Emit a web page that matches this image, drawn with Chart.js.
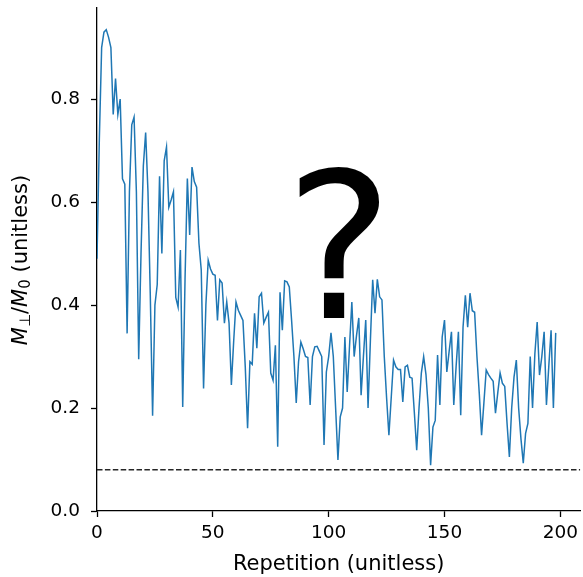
<!DOCTYPE html>
<html lang="en">
<head>
<meta charset="UTF-8" />
<title>Transverse magnetization per repetition</title>
<script src="https://cdn.jsdelivr.net/npm/chart.js"></script>
<style>
  html, body { margin: 0; padding: 0; background: #ffffff; }
  #wrap { width: 583px; height: 577px; }
</style>
</head>
<body>
<div id="wrap"><canvas id="chart" width="583" height="577"></canvas></div>
<script>
// M_perp / M_0 for each repetition (repetition 0..198)
const signal = [
  0.49, 0.72, 0.90, 0.93, 0.935, 0.92, 0.90, 0.77, 0.84, 0.77,
  0.80, 0.645, 0.635, 0.345, 0.62, 0.75, 0.765, 0.62, 0.295, 0.50,
  0.67, 0.735, 0.62, 0.42, 0.185, 0.40, 0.44, 0.65, 0.50, 0.68,
  0.707, 0.59, 0.604, 0.62, 0.415, 0.396, 0.507, 0.202, 0.45, 0.646,
  0.536, 0.668, 0.64, 0.629, 0.52, 0.468, 0.238, 0.40, 0.487, 0.47,
  0.46, 0.458, 0.37, 0.449, 0.443, 0.365, 0.406, 0.365, 0.245, 0.33,
  0.406, 0.39, 0.38, 0.37, 0.28, 0.161, 0.29, 0.285, 0.384, 0.316,
  0.416, 0.423, 0.365, 0.376, 0.386, 0.268, 0.254, 0.322, 0.125, 0.425,
  0.351, 0.447, 0.445, 0.435, 0.37, 0.30, 0.21, 0.29, 0.328, 0.315,
  0.30, 0.298, 0.206, 0.30, 0.319, 0.32, 0.31, 0.30, 0.128, 0.27,
  0.30, 0.346, 0.30, 0.20, 0.099, 0.183, 0.20, 0.338, 0.231, 0.32,
  0.406, 0.30, 0.34, 0.375, 0.225, 0.30, 0.371, 0.20, 0.33, 0.449,
  0.384, 0.45, 0.416, 0.41, 0.30, 0.22, 0.147, 0.22, 0.293, 0.28,
  0.275, 0.275, 0.212, 0.28, 0.283, 0.26, 0.258, 0.19, 0.118, 0.20,
  0.268, 0.30, 0.265, 0.20, 0.089, 0.163, 0.176, 0.303, 0.206, 0.338,
  0.371, 0.27, 0.31, 0.348, 0.206, 0.28, 0.348, 0.186, 0.357, 0.419,
  0.357, 0.423, 0.389, 0.386, 0.30, 0.229, 0.147, 0.21, 0.274, 0.265,
  0.258, 0.252, 0.19, 0.23, 0.268, 0.248, 0.242, 0.17, 0.105, 0.20,
  0.26, 0.293, 0.20, 0.14, 0.093, 0.151, 0.17, 0.30, 0.20, 0.305,
  0.367, 0.264, 0.30, 0.348, 0.206, 0.28, 0.351, 0.20, 0.346
];
const threshold = 0.08;
const xTicks = [0, 50, 100, 150, 200];
const yTicks = [0.0, 0.2, 0.4, 0.6, 0.8];
const xMax = 208.6;
const yMax = 0.977;

const FONT = "'DejaVu Sans', sans-serif";

const signalPoints = signal.map((v, i) => ({ x: i, y: v }));
const thresholdPoints = [{ x: 0, y: threshold }, { x: xMax, y: threshold }];

// y axis title with mathtext-like subscripts, and the big question mark
const extras = {
  id: 'extras',
  afterDraw(chart) {
    const c = chart.ctx;
    const xs = chart.scales.x, ys = chart.scales.y;

    c.save();
    c.fillStyle = '#000';
    c.font = '204px ' + FONT;
    c.textAlign = 'center';
    c.textBaseline = 'alphabetic';
    c.fillText('?', xs.getPixelForValue(104.5), ys.getPixelForValue(0.375));
    c.restore();

    const parts = [
      { t: 'M', f: 'italic 21px ' + FONT, dy: 0 },
      { t: '\u22A5', f: '15px ' + FONT, dy: 4 },
      { t: '/', f: '21px ' + FONT, dy: 0 },
      { t: 'M', f: 'italic 21px ' + FONT, dy: 0 },
      { t: '0', f: '15px ' + FONT, dy: 4 },
      { t: ' (unitless)', f: '21px ' + FONT, dy: 0 }
    ];
    c.save();
    c.fillStyle = '#000';
    c.translate(22, 260);
    c.rotate(-Math.PI / 2);
    let total = 0;
    parts.forEach(p => { c.font = p.f; p.w = c.measureText(p.t).width; total += p.w; });
    let x = -total / 2;
    c.textBaseline = 'middle';
    parts.forEach(p => {
      c.font = p.f;
      c.fillText(p.t, x, p.dy);
      x += p.w;
    });
    c.restore();
  }
};

const axisCommon = {
  type: 'linear',
  grid: {
    display: true,
    drawOnChartArea: false,
    drawTicks: true,
    tickLength: 6,
    tickColor: '#000',
    tickWidth: 1.3
  },
  border: { display: true, color: '#000', width: 1.3 }
};

new Chart(document.getElementById('chart'), {
  type: 'line',
  data: {
    datasets: [
      {
        data: signalPoints,
        borderColor: '#1f77b4',
        borderWidth: 1.5,
        pointRadius: 0,
        tension: 0,
        fill: false
      },
      {
        data: thresholdPoints,
        borderColor: '#262626',
        borderWidth: 1.5,
        borderDash: [5.5, 2.4],
        pointRadius: 0,
        fill: false
      }
    ]
  },
  options: {
    responsive: false,
    animation: false,
    events: [],
    layout: { padding: { top: 8, right: 0, left: 0, bottom: 0 } },
    plugins: { legend: { display: false }, tooltip: { enabled: false } },
    scales: {
      x: {
        ...axisCommon,
        min: 0,
        max: xMax,
        afterBuildTicks: s => { s.ticks = xTicks.map(v => ({ value: v })); },
        afterFit: s => { s.height = 66; },
        ticks: {
          color: '#000',
          font: { family: FONT, size: 18.5 },
          padding: 5,
          maxRotation: 0,
          callback: v => String(v)
        },
        title: {
          display: true,
          text: 'Repetition (unitless)',
          color: '#000',
          font: { family: FONT, size: 21 },
          padding: { top: 6, bottom: 0 }
        }
      },
      y: {
        ...axisCommon,
        min: 0,
        max: yMax,
        afterBuildTicks: s => { s.ticks = yTicks.map(v => ({ value: v })); },
        afterFit: s => { s.width = 97; s.paddingTop = 0; s.paddingBottom = 0; },
        ticks: {
          color: '#000',
          font: { family: FONT, size: 18.5 },
          padding: 11,
          callback: v => v.toFixed(1)
        }
      }
    }
  },
  plugins: [extras]
});
</script>
</body>
</html>
